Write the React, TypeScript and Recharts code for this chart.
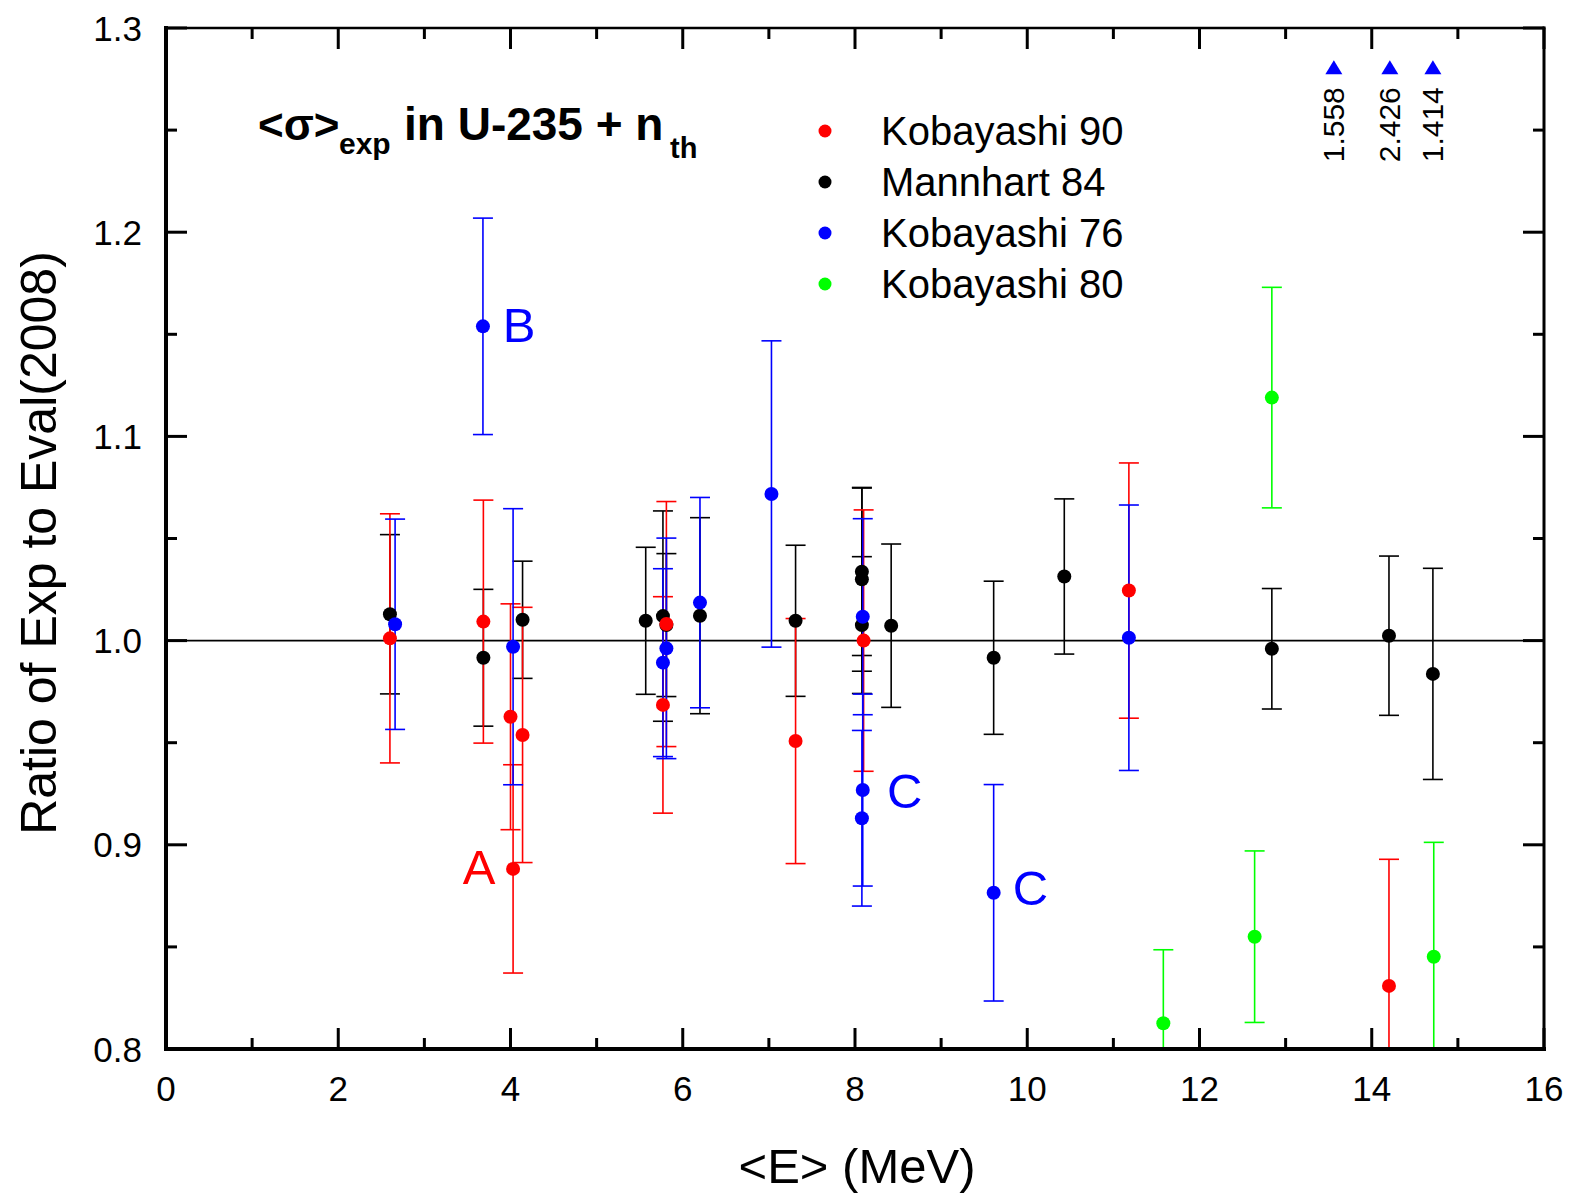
import React from 'react';
import { ScatterChart, Scatter, XAxis, YAxis, ErrorBar, ReferenceLine } from 'recharts';

const FONT = "'Liberation Sans', Arial, Helvetica, sans-serif";
const W = 1574;
const H = 1200;
const PLOT_LEFT = 166;
const PLOT_TOP = 28;
const PLOT_RIGHT = 1544;
const PLOT_BOTTOM = 1049;
const X_AXIS_H = 60;
const Y_AXIS_W = 60;

const xTicks = [0, 1, 2, 3, 4, 5, 6, 7, 8, 9, 10, 11, 12, 13, 14, 15, 16];
const yTicks = [0.8, 0.85, 0.9, 0.95, 1.0, 1.05, 1.1, 1.15, 1.2, 1.25, 1.3];
const xDomain = [0, 16];
const yDomain = [0.8, 1.3];

const seriesNames = ['Kobayashi 90', 'Mannhart 84', 'Kobayashi 76', 'Kobayashi 80'];
const seriesColors = ['#ff0000', '#000000', '#0000ff', '#00ff00'];

// Kobayashi 90 (red)
const kob90E = [2.60, 3.685, 4.00, 4.03, 4.14, 5.77, 5.81, 7.31, 8.10, 11.18, 14.20];
const kob90V = [1.0011, 1.0093, 0.9627, 0.8882, 0.9538, 0.9685, 1.0081, 0.9508, 1.0, 1.0245, 0.8309];
const kob90Err = [0.061, 0.0595, 0.0553, 0.051, 0.0625, 0.053, 0.06, 0.06, 0.064, 0.0625, 0.062];

// Mannhart 84 (black)
const man84E = [2.60, 3.685, 4.14, 5.57, 5.77, 5.81, 6.20, 7.31, 8.08, 8.08, 8.08, 8.42, 9.61, 10.43, 12.84, 14.20, 14.71];
const man84V = [1.0129, 0.9916, 1.0102, 1.0097, 1.012, 1.0076, 1.0122, 1.0097, 1.0337, 1.030, 1.0076, 1.0073, 0.9916, 1.0314, 0.996, 1.0024, 0.9837];
const man84Err = [0.039, 0.0335, 0.0287, 0.036, 0.0515, 0.035, 0.048, 0.037, 0.041, 0.045, 0.0335, 0.040, 0.0375, 0.038, 0.0295, 0.039, 0.0517];

// Kobayashi 76 (blue)
const kob76E = [2.66, 3.68, 4.03, 5.77, 5.81, 6.20, 7.03, 8.09, 8.09, 8.08, 9.61, 11.18];
const kob76V = [1.008, 1.1539, 0.997, 0.9892, 0.9962, 1.0186, 1.0718, 1.0117, 0.9268, 0.913, 0.8765, 1.0014];
const kob76Err = [0.0515, 0.053, 0.0676, 0.046, 0.054, 0.0515, 0.075, 0.048, 0.047, 0.043, 0.053, 0.065];

// Kobayashi 80 (green)
const kob80E = [11.58, 12.64, 12.84, 14.72];
const kob80V = [0.8126, 0.855, 1.119, 0.8452];
const kob80Err = [0.036, 0.042, 0.054, 0.056];

// off-scale markers (blue triangles with values)
const markerE = [13.56, 14.21, 14.71];
const markerV = [1.2803, 1.2803, 1.2803];
const markerLabels = ['1.558', '2.426', '1.414'];

// letter annotations
const annE = [3.636, 4.099, 8.578, 10.037];
const annV = [0.8896, 1.1546, 0.9267, 0.879];
const annText = ['A', 'B', 'C', 'C'];
const annColor = ['#ff0000', '#0000ff', '#0000ff', '#0000ff'];

// error bars are cut at the lower edge of the frame, as in the figure
const rows = (e: number[], v: number[], err: number[]) =>
  e.map((x, i) => ({ x, y: v[i], err: [Math.min(err[i], v[i] - yDomain[0]), err[i]] }));

const seriesData = [
  rows(kob90E, kob90V, kob90Err),
  rows(man84E, man84V, man84Err),
  rows(kob76E, kob76V, kob76Err),
  rows(kob80E, kob80V, kob80Err),
];
// drawing order: black first, then red, blue, green
const drawOrder = [1, 0, 2, 3];

const markerData = markerE.map((x, i) => ({ x, y: markerV[i], label: markerLabels[i] }));
const annData = annE.map((x, i) => ({ x, y: annV[i], text: annText[i], color: annColor[i] }));

const XTick = (props: any) => {
  const { x, y, payload } = props;
  const v = payload.value;
  const major = Math.round(v) % 2 === 0;
  const len = major ? 21 : 11;
  return (
    <g>
      <line x1={x} x2={x} y1={y} y2={y - len} stroke="#000" strokeWidth={3} />
      <line x1={x} x2={x} y1={PLOT_TOP} y2={PLOT_TOP + len} stroke="#000" strokeWidth={3} />
      {major && (
        <text x={x} y={y + 52} textAnchor="middle" fontSize={35} fontFamily={FONT} fill="#000">
          {v}
        </text>
      )}
    </g>
  );
};

const YTick = (props: any) => {
  const { x, y, payload } = props;
  const v = payload.value;
  const major = Math.round(v * 100) % 10 === 0;
  const len = major ? 21 : 11;
  return (
    <g>
      <line x1={x} x2={x + len} y1={y} y2={y} stroke="#000" strokeWidth={3} />
      <line x1={PLOT_RIGHT} x2={PLOT_RIGHT - len} y1={y} y2={y} stroke="#000" strokeWidth={3} />
      {major && (
        <text x={x - 24} y={y} dy="0.36em" textAnchor="end" fontSize={35} fontFamily={FONT} fill="#000">
          {v.toFixed(1)}
        </text>
      )}
    </g>
  );
};

const makeDot = (color: string) => (p: any) => <circle cx={p.cx} cy={p.cy} r={7} fill={color} stroke="none" />;

const markerShape = (p: any) => {
  const { cx, cy, payload } = p;
  return (
    <g>
      <polygon points={`${cx},${cy - 8} ${cx - 8.5},${cy + 6} ${cx + 8.5},${cy + 6}`} fill="#0000ff" />
      <text
        transform={`translate(${cx + 10}, ${cy + 19}) rotate(-90)`}
        textAnchor="end"
        fontSize={30}
        fontFamily={FONT}
        fill="#000"
      >
        {payload.label}
      </text>
    </g>
  );
};

const annShape = (p: any) => (
  <text x={p.cx} y={p.cy} dy="0.358em" textAnchor="middle" fontSize={49} fontFamily={FONT} fill={p.payload.color}>
    {p.payload.text}
  </text>
);

const LEGEND_DOT_X = 825;
const LEGEND_TEXT_X = 881;
const LEGEND_Y0 = 131;
const LEGEND_STEP = 51;

export default function App() {
  return (
    <div style={{ position: 'absolute', left: 0, top: 0, width: W, height: H, background: '#fff' }}>
      <div style={{ position: 'absolute', left: 0, top: 0 }}>
        <ScatterChart
          width={W}
          height={H}
          margin={{
            top: PLOT_TOP,
            right: W - PLOT_RIGHT,
            bottom: H - PLOT_BOTTOM - X_AXIS_H,
            left: PLOT_LEFT - Y_AXIS_W,
          }}
        >
          <XAxis
            type="number"
            dataKey="x"
            domain={xDomain}
            ticks={xTicks}
            interval={0}
            allowDataOverflow
            height={X_AXIS_H}
            tickSize={0}
            tickMargin={0}
            tickLine={false}
            axisLine={false}
            tick={(p: any) => <XTick {...p} />}
          />
          <YAxis
            type="number"
            dataKey="y"
            domain={yDomain}
            ticks={yTicks}
            interval={0}
            allowDataOverflow
            width={Y_AXIS_W}
            tickSize={0}
            tickMargin={0}
            tickLine={false}
            axisLine={false}
            tick={(p: any) => <YTick {...p} />}
          />
          <ReferenceLine y={1} stroke="#000" strokeWidth={1.6} ifOverflow="hidden" />
          {drawOrder.map((si) => (
            <Scatter
              key={seriesNames[si]}
              name={seriesNames[si]}
              data={seriesData[si]}
              fill={seriesColors[si]}
              shape={makeDot(seriesColors[si])}
              isAnimationActive={false}
            >
              <ErrorBar
                dataKey="err"
                direction="y"
                width={10}
                stroke={seriesColors[si]}
                strokeWidth={1.6}
                isAnimationActive={false}
              />
            </Scatter>
          ))}
          <Scatter name="markers" data={markerData} shape={markerShape} isAnimationActive={false} />
          <Scatter name="annotations" data={annData} shape={annShape} isAnimationActive={false} />
        </ScatterChart>
      </div>
      <svg
        width={W}
        height={H}
        style={{ position: 'absolute', left: 0, top: 0, pointerEvents: 'none' }}
        fontFamily={FONT}
      >
        {/* frame */}
        <line x1={PLOT_LEFT} y1={PLOT_TOP} x2={PLOT_RIGHT} y2={PLOT_TOP} stroke="#000" strokeWidth={2.6} strokeLinecap="square" />
        <line x1={PLOT_RIGHT} y1={PLOT_TOP} x2={PLOT_RIGHT} y2={PLOT_BOTTOM} stroke="#000" strokeWidth={3} strokeLinecap="square" />
        <line x1={PLOT_LEFT} y1={PLOT_TOP} x2={PLOT_LEFT} y2={PLOT_BOTTOM} stroke="#000" strokeWidth={4} strokeLinecap="square" />
        <line x1={PLOT_LEFT} y1={PLOT_BOTTOM} x2={PLOT_RIGHT} y2={PLOT_BOTTOM} stroke="#000" strokeWidth={4} strokeLinecap="square" />

        {/* title */}
        <text x={258} y={140} fontSize={44} fontWeight="bold" fill="#000">&lt;σ&gt;</text>
        <text x={339} y={154} fontSize={30} fontWeight="bold" fill="#000">exp</text>
        <text x={404} y={140} fontSize={46} fontWeight="bold" fill="#000">in U-235 + n</text>
        <text x={670} y={158} fontSize={29} fontWeight="bold" fill="#000">th</text>

        {/* legend */}
        {seriesNames.map((name, i) => (
          <g key={name}>
            <circle cx={LEGEND_DOT_X} cy={LEGEND_Y0 + i * LEGEND_STEP} r={6.5} fill={seriesColors[i]} />
            <text x={LEGEND_TEXT_X} y={LEGEND_Y0 + i * LEGEND_STEP + 14} fontSize={40} fill="#000">
              {name}
            </text>
          </g>
        ))}

        {/* axis titles */}
        <text x={857} y={1183} fontSize={49} textAnchor="middle" fill="#000">&lt;E&gt; (MeV)</text>
        <text transform="translate(56, 543) rotate(-90)" fontSize={50} textAnchor="middle" fill="#000">
          Ratio of Exp to Eval(2008)
        </text>
      </svg>
    </div>
  );
}
